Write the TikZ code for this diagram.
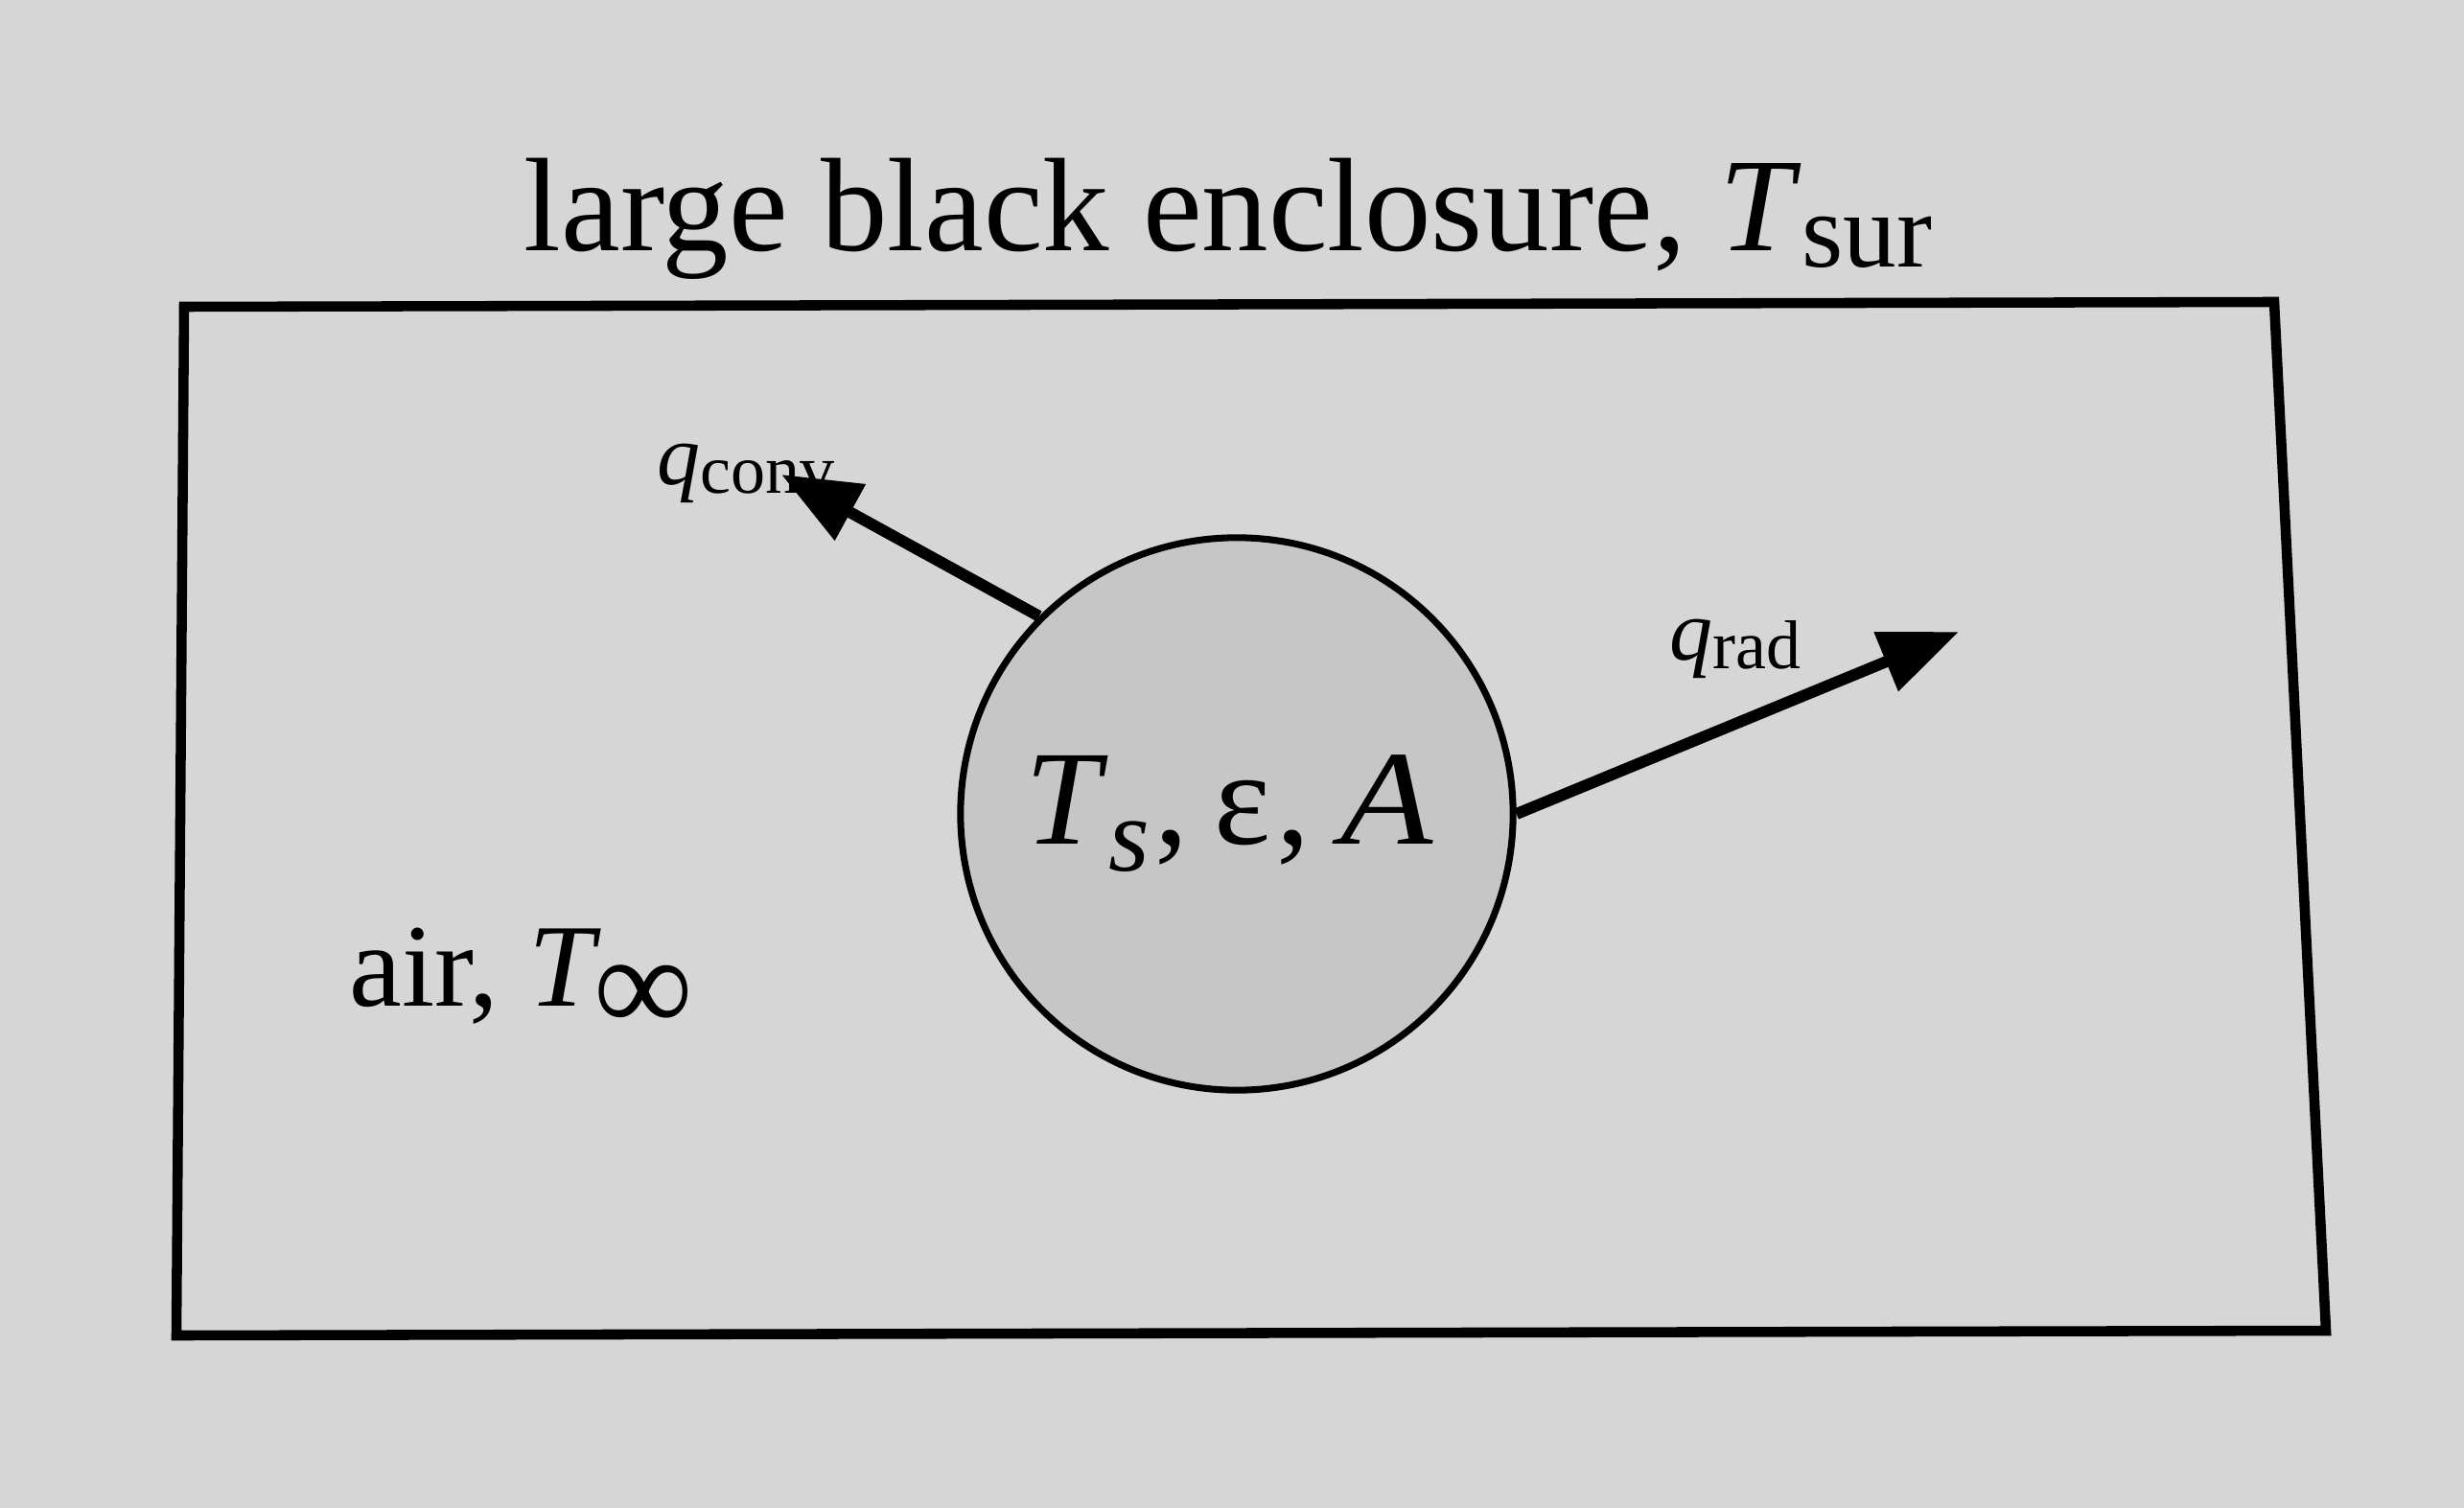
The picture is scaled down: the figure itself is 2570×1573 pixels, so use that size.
\documentclass[tikz,border=0pt]{standalone}
\usepackage{fontspec}
\setmainfont{Liberation Serif}
\usetikzlibrary{arrows.meta}
\definecolor{paper}{RGB}{214,214,214}
\definecolor{ballfill}{RGB}{198,198,198}
\newcommand\lowsub[3]{\raisebox{-#1em}{\scalebox{#2}{#3}}}
\begin{document}
\begin{tikzpicture}[x=0.01cm,y=-0.01cm,
  frame/.style={line width=3pt, line join=miter},
  flow/.style={line width=3.4pt, -{Triangle[length=0.82cm,width=0.64cm]}},
  lbl/.style={anchor=base west, inner sep=0pt}]
\fill[paper] (0,0) rectangle (2570,1573);
\useasboundingbox (0,0) rectangle (2570,1573);
% enclosure
\coordinate (tl) at (192,320);
\coordinate (tr) at (2372,315);
\coordinate (br) at (2426,1388);
\coordinate (bl) at (184,1393);
\draw[frame] (tl) -- (tr) -- (br) -- (bl) -- cycle;
% title
\node[lbl, font=\fontsize{39.5}{42}\selectfont] (title) at (546,262)
  {large black enclosure, \textit{T}\lowsub{0.12}{0.8}{sur}};
% sphere
\node[circle, draw, line width=2pt, fill=ballfill, minimum size=5.76cm, inner sep=0pt] (ball) at (1290,849) {};
\node[lbl, font=\fontsize{40}{42}\selectfont] (props) at (1069,880)
  {\textit{T}\lowsub{0.2}{0.78}{\textit{s}}\hspace{0.04em},\hspace{0.19em}ε\hspace{0.04em},\hspace{0.23em}\scalebox{1.12}[1]{\textit{A}}};
% air
\node[lbl, font=\fontsize{35}{38}\selectfont] (air) at (364,1049)
  {air, \textit{T}\hspace{-0.06em}\lowsub{0.22}{1.18}{∞}};
% labels
\node[lbl, font=\fontsize{25.6}{28}\selectfont] (qconv) at (685,505)
  {\textit{q}\lowsub{0.1}{0.8}{conv}};
\node[lbl, font=\fontsize{25.6}{28}\selectfont] (qrad) at (1741,688)
  {\textit{q}\lowsub{0.1}{0.8}{rad}};
% arrows
\coordinate (convtip) at (815,495);
\coordinate (radtip) at (2043,659);
\draw[flow] (ball.135) -- (convtip);
\draw[flow] (ball.0) -- (radtip);
\end{tikzpicture}
\end{document}
